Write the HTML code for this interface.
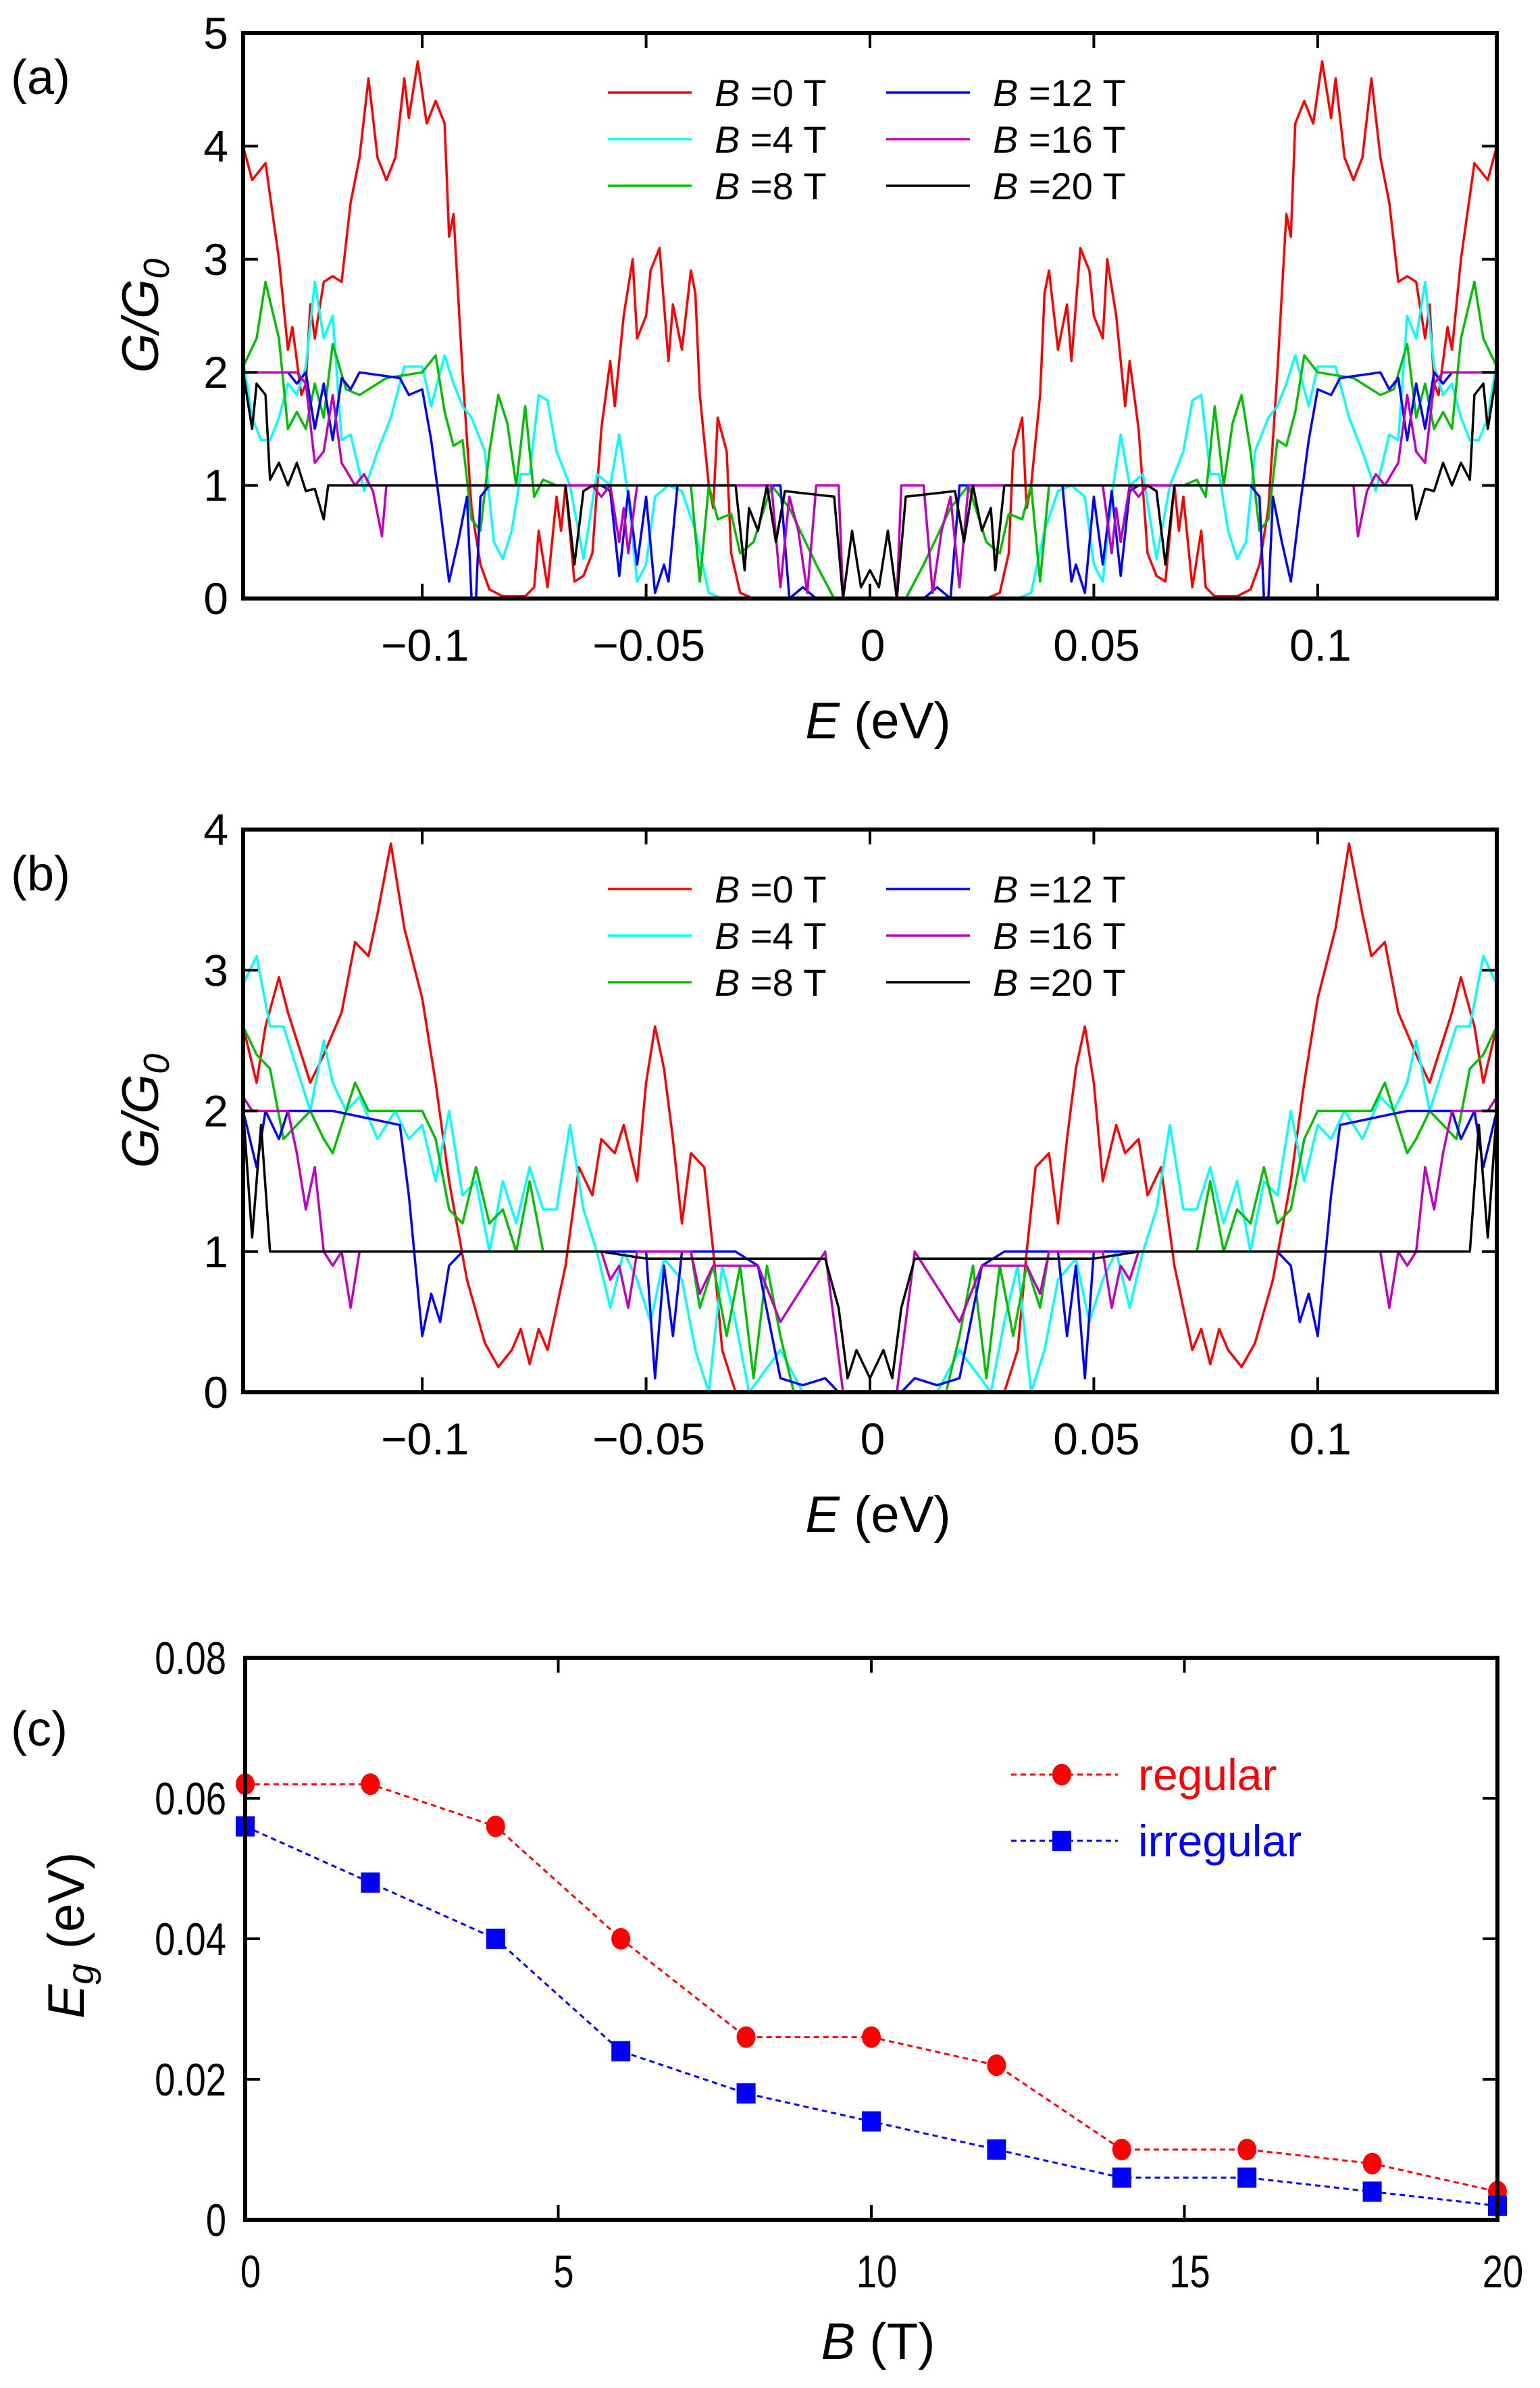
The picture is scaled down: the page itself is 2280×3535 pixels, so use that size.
<!DOCTYPE html>
<html><head><meta charset="utf-8"><style>
html,body{margin:0;padding:0;background:#fff}
svg{display:block}
text{font-family:"Liberation Sans",sans-serif}
</style></head><body>
<svg id="s" width="2280" height="3535" xmlns="http://www.w3.org/2000/svg"></svg>
<script>
const S=document.getElementById('s');let h='';
const col={r:'#ff0000',c:'#00ffff',g:'#00c000',b:'#0000ff',m:'#c000c0',k:'#000000'};
function panel(yt,yb,ymax,data,lab,legy){
  const X0=360,X1=2216;
  const fx=e=>X0+(e+0.14)/0.28*(X1-X0);
  const fy=v=>yb-v/ymax*(yb-yt);
  for(const k of ['r','c','g','b','m','k']){
    const pts=data[k];let L=[],R=[];
    for(const [e,v] of pts){L.push([e,v]);}
    for(let i=pts.length-1;i>=0;i--){R.push([-pts[i][0],pts[i][1]]);}
    const all=L.concat(R);
    h+=`<polyline fill="none" stroke="${col[k]}" stroke-width="3.5" stroke-linejoin="round" points="${all.map(p=>fx(p[0]).toFixed(1)+','+fy(Math.max(0,p[1])).toFixed(1)).join(' ')}"/>`;
  }
  h+=`<rect x="${X0}" y="${yt}" width="${X1-X0}" height="${yb-yt}" fill="none" stroke="#000" stroke-width="6"/>`;
  for(let v=1;v<ymax;v++){const y=fy(v);h+=`<line x1="${X0}" y1="${y}" x2="${X0+22}" y2="${y}" stroke="#000" stroke-width="4"/><line x1="${X1-22}" y1="${y}" x2="${X1}" y2="${y}" stroke="#000" stroke-width="4"/>`;}
  for(let v=0;v<=ymax;v++){h+=`<text x="338" y="${fy(v)+23}" font-size="66" text-anchor="end">${v}</text>`;}
  for(const e of [-0.1,-0.05,0,0.05,0.1]){const x=fx(e);
    h+=`<line x1="${x}" y1="${yt}" x2="${x}" y2="${yt+22}" stroke="#000" stroke-width="4"/><line x1="${x}" y1="${yb-22}" x2="${x}" y2="${yb}" stroke="#000" stroke-width="4"/>`;
    const t=e==0?'0':(e<0?'\u2212':'')+String(Math.abs(e));
    h+=`<text x="${x+4}" y="${yb+92}" font-size="66" text-anchor="middle">${t}</text>`;}
  h+=`<text x="1300" y="${yb+207}" font-size="76" text-anchor="middle"><tspan font-style="italic">E</tspan> (eV)</text>`;
  const cy=(yt+yb)/2;
  h+=`<text transform="translate(234,${cy}) rotate(-90)" font-size="76" text-anchor="middle" font-style="italic">G/G<tspan font-size="54" dy="16">0</tspan></text>`;
  h+=`<text x="16" y="${yt+90}" font-size="72">${lab}</text>`;
  const leg=[['r','0'],['c','4'],['g','8'],['b','12'],['m','16'],['k','20']];
  leg.forEach((l,i)=>{const c=Math.floor(i/3),r=i%3;const lx=c?1312:900,tx=c?1470:1058,y=legy+r*69;
    h+=`<line x1="${lx}" y1="${y}" x2="${lx+124}" y2="${y}" stroke="${col[l[0]]}" stroke-width="3.5"/>`;
    h+=`<text x="${tx}" y="${y+20}" font-size="56"><tspan font-style="italic">B</tspan> =${l[1]} T</text>`;});
}
const A={
r:[[-.14,4],[-.138,3.7],[-.135,3.85],[-.132,3],[-.13,2.2],[-.129,2.4],[-.127,1.8],[-.126,1.9],[-.125,2.6],[-.124,2.3],[-.122,2.8],[-.12,2.85],[-.118,2.8],[-.116,3.5],[-.114,3.9],[-.112,4.6],[-.11,3.9],[-.108,3.7],[-.106,3.9],[-.104,4.6],[-.103,4.25],[-.101,4.75],[-.099,4.2],[-.097,4.4],[-.095,4.2],[-.094,3.2],[-.093,3.4],[-.091,2.0],[-.089,0.8],[-.087,0.3],[-.085,0.08],[-.082,0.02],[-.077,0.02],[-.075,0.1],[-.074,0.6],[-.072,0.1],[-.07,0.9],[-.069,0.6],[-.068,1.0],[-.066,0.15],[-.064,0.2],[-.062,0.4],[-.06,1.5],[-.058,2.1],[-.057,1.7],[-.055,2.5],[-.053,3.0],[-.052,2.3],[-.05,2.5],[-.049,2.9],[-.047,3.1],[-.045,2.1],[-.044,2.6],[-.042,2.2],[-.04,2.9],[-.039,2.7],[-.038,1.8],[-.036,1.0],[-.035,0.8],[-.034,1.6],[-.032,1.3],[-.031,0.4],[-.029,0.05],[-.026,0],[-.006,0]],
c:[[-.14,2.1],[-.138,1.6],[-.136,1.4],[-.134,1.4],[-.132,1.6],[-.13,1.9],[-.128,1.8],[-.126,2.05],[-.124,2.8],[-.122,2.3],[-.12,2.5],[-.118,1.4],[-.116,1.45],[-.113,0.95],[-.11,1.3],[-.107,1.6],[-.104,2.05],[-.1,2.05],[-.098,1.7],[-.095,2.15],[-.093,1.9],[-.091,1.7],[-.089,1.6],[-.086,1.3],[-.084,0.5],[-.082,0.35],[-.08,0.6],[-.078,1.1],[-.076,1.1],[-.074,1.8],[-.072,1.75],[-.07,1.3],[-.067,1.0],[-.064,0.35],[-.061,1.1],[-.058,1.0],[-.056,1.45],[-.054,0.9],[-.052,0.15],[-.05,0.3],[-.048,0.9],[-.045,1.0],[-.042,0.95],[-.039,0.6],[-.036,0.05],[-.033,0],[-.006,0]],
g:[[-.14,2.05],[-.137,2.3],[-.135,2.8],[-.132,2.3],[-.13,1.5],[-.128,1.65],[-.126,1.5],[-.124,1.9],[-.122,1.6],[-.12,2.25],[-.117,1.85],[-.114,1.8],[-.108,1.95],[-.1,2.0],[-.097,2.15],[-.095,1.65],[-.093,1.35],[-.091,1.4],[-.089,0.7],[-.087,0.6],[-.085,1.3],[-.083,1.8],[-.081,1.55],[-.079,1.0],[-.077,1.7],[-.075,0.9],[-.073,1.05],[-.07,1.0],[-.04,1.0],[-.038,0.15],[-.036,1.0],[-.034,0.7],[-.031,0.75],[-.029,0.4],[-.026,0.5],[-.022,1.0],[-.018,0.8],[-.012,0.3],[-.008,0]],
b:[[-.14,2.0],[-.13,2.0],[-.128,1.9],[-.126,2.0],[-.124,1.5],[-.122,1.9],[-.12,1.4],[-.118,1.95],[-.116,1.85],[-.114,2.0],[-.105,1.95],[-.103,1.8],[-.1,1.85],[-.098,1.4],[-.096,0.8],[-.094,0.15],[-.092,0.5],[-.09,0.9],[-.089,0],[-.088,0],[-.087,0.9],[-.085,1.0],[-.06,1.0],[-.058,0.95],[-.056,0.2],[-.054,0.95],[-.052,0.3],[-.05,0.9],[-.048,0.05],[-.046,0.3],[-.045,0.15],[-.043,1.0],[-.02,1.0],[-.018,0],[-.015,0.1],[-.012,0],[-.006,0]],
m:[[-.14,2.0],[-.128,2.0],[-.126,1.9],[-.124,1.2],[-.122,1.3],[-.12,1.8],[-.118,1.2],[-.115,1.0],[-.113,1.1],[-.111,0.95],[-.109,0.55],[-.108,1.0],[-.062,1.0],[-.06,0.9],[-.058,1.0],[-.056,0.5],[-.055,0.8],[-.054,0.4],[-.052,1.0],[-.022,1.0],[-.02,0.1],[-.018,0.9],[-.016,0.6],[-.014,0.05],[-.012,1.0],[-.007,1.0],[-.006,0]],
k:[[-.14,2.0],[-.138,1.5],[-.137,1.9],[-.135,1.8],[-.134,1.05],[-.132,1.2],[-.13,1.0],[-.128,1.2],[-.126,0.95],[-.124,0.97],[-.122,0.7],[-.121,1.0],[-.068,1.0],[-.066,0.3],[-.064,0.95],[-.062,1.0],[-.03,1.0],[-.028,0.25],[-.027,0.8],[-.025,0.6],[-.023,1.0],[-.021,0.5],[-.019,0.95],[-.008,0.9],[-.006,0.0],[-.004,0.6],[-.002,0.1],[0,0.25]]};
const B={
r:[[-.14,2.6],[-.137,2.2],[-.135,2.6],[-.132,2.95],[-.13,2.7],[-.127,2.4],[-.125,2.2],[-.122,2.4],[-.118,2.7],[-.115,3.2],[-.112,3.1],[-.11,3.4],[-.107,3.9],[-.104,3.3],[-.1,2.8],[-.097,2.2],[-.094,1.5],[-.09,0.8],[-.086,0.35],[-.083,0.18],[-.08,0.3],[-.078,0.45],[-.076,0.2],[-.074,0.45],[-.072,0.3],[-.07,0.6],[-.068,0.9],[-.065,1.6],[-.062,1.4],[-.06,1.8],[-.057,1.7],[-.055,1.9],[-.052,1.5],[-.05,2.2],[-.048,2.6],[-.046,2.3],[-.044,1.8],[-.042,1.2],[-.04,1.7],[-.037,1.6],[-.035,1.0],[-.033,0.3],[-.03,0],[-.008,0]],
c:[[-.14,2.9],[-.137,3.1],[-.134,2.6],[-.131,2.6],[-.128,2.3],[-.125,2.0],[-.122,2.5],[-.12,2.2],[-.117,2.0],[-.114,2.1],[-.11,1.8],[-.106,2.0],[-.103,1.8],[-.1,1.9],[-.097,1.5],[-.094,2.0],[-.091,1.4],[-.088,1.5],[-.085,1.0],[-.082,1.5],[-.079,1.2],[-.076,1.6],[-.073,1.3],[-.07,1.3],[-.067,1.9],[-.064,1.3],[-.061,1.0],[-.058,0.6],[-.055,1.0],[-.052,0.8],[-.049,0.5],[-.046,0.95],[-.042,0.8],[-.039,0.3],[-.036,0],[-.033,0.9],[-.03,0.5],[-.027,0],[-.02,0.3],[-.015,0],[-.008,0]],
g:[[-.14,2.6],[-.137,2.4],[-.134,2.3],[-.131,1.8],[-.128,1.9],[-.125,2.0],[-.122,1.8],[-.12,1.7],[-.117,2.0],[-.115,2.2],[-.112,2.0],[-.1,2.0],[-.097,1.8],[-.094,1.3],[-.091,1.2],[-.088,1.6],[-.085,1.2],[-.082,1.3],[-.079,1.0],[-.076,1.5],[-.073,1.0],[-.07,1.0],[-.04,1.0],[-.038,0.6],[-.035,0.9],[-.032,0.4],[-.029,0.9],[-.026,0.1],[-.023,0.9],[-.02,0.4],[-.017,0],[-.008,0]],
b:[[-.14,2.0],[-.137,1.6],[-.135,2.0],[-.132,1.8],[-.13,2.0],[-.12,2.0],[-.105,1.9],[-.103,1.4],[-.1,0.4],[-.098,0.7],[-.096,0.5],[-.094,0.9],[-.091,1.0],[-.05,1.0],[-.048,0.1],[-.046,0.9],[-.044,0.4],[-.042,1.0],[-.03,1.0],[-.025,0.9],[-.02,0.1],[-.015,0.05],[-.01,0.1],[-.007,0]],
m:[[-.14,2.1],[-.138,2.0],[-.13,2.0],[-.128,1.7],[-.126,1.3],[-.124,1.6],[-.122,1.0],[-.12,0.9],[-.118,1.0],[-.116,0.6],[-.114,1.0],[-.06,1.0],[-.058,0.8],[-.056,0.9],[-.054,0.6],[-.052,1.0],[-.04,1.0],[-.038,0.7],[-.035,0.9],[-.025,0.9],[-.02,0.5],[-.01,1.0],[-.006,0]],
k:[[-.14,2.0],[-.138,1.1],[-.136,1.9],[-.134,1.0],[-.132,1.0],[-.06,1.0],[-.05,0.95],[-.01,0.95],[-.007,0.6],[-.005,0.1],[-.003,0.3],[0,0.1]]};
panel(49,886,5,A,'(a)',137);
panel(1228,2061,4,B,'(b)',1316);
(function(){
const X0=363,X1=2217,yt=2454,yb=3286;
const fx=b=>X0+b/20*(X1-X0), fy=v=>yb-v/0.08*(yb-yt);
const reg=[.062,.062,.056,.040,.026,.026,.022,.010,.010,.008,.004];
const irr=[.056,.048,.040,.024,.018,.014,.010,.006,.006,.004,.002];
h+=`<polyline fill="none" stroke="#ff0000" stroke-width="3" stroke-dasharray="8,6" points="${reg.map((v,i)=>fx(2*i)+','+fy(v)).join(' ')}"/>`;
h+=`<polyline fill="none" stroke="#0000ff" stroke-width="3" stroke-dasharray="8,6" points="${irr.map((v,i)=>fx(2*i)+','+fy(v)).join(' ')}"/>`;
reg.forEach((v,i)=>h+=`<ellipse cx="${fx(2*i)}" cy="${fy(v)}" rx="14" ry="16" fill="#ff0000"/>`);
irr.forEach((v,i)=>h+=`<rect x="${fx(2*i)-14}" y="${fy(v)-15}" width="28" height="30" fill="#0000ff"/>`);
h+=`<rect x="${X0}" y="${yt}" width="${X1-X0}" height="${yb-yt}" fill="none" stroke="#000" stroke-width="6"/>`;
for(let i=0;i<=4;i++){const v=i*0.02,y=fy(v);
 if(i>0&&i<4)h+=`<line x1="${X0}" y1="${y}" x2="${X0+22}" y2="${y}" stroke="#000" stroke-width="4"/><line x1="${X1-22}" y1="${y}" x2="${X1}" y2="${y}" stroke="#000" stroke-width="4"/>`;
 const t=i==0?'0':v.toFixed(2);
 h+=`<text transform="translate(335,${y+24}) scale(0.8,1)" font-size="68" text-anchor="end">${t}</text>`;}
for(let b=0;b<=20;b+=5){const x=fx(b);
 if(b>0&&b<20)h+=`<line x1="${x}" y1="${yt}" x2="${x}" y2="${yt+22}" stroke="#000" stroke-width="4"/><line x1="${x}" y1="${yb-22}" x2="${x}" y2="${yb}" stroke="#000" stroke-width="4"/>`;
 h+=`<text transform="translate(${x+8},${yb+100}) scale(0.8,1)" font-size="68" text-anchor="middle">${b}</text>`;}
h+=`<text x="1300" y="3492" font-size="76" text-anchor="middle"><tspan font-style="italic">B</tspan> (T)</text>`;
h+=`<text transform="translate(124,2865) rotate(-90)" font-size="76" text-anchor="middle"><tspan font-style="italic">E</tspan><tspan font-style="italic" font-size="56" dy="14">g</tspan><tspan dy="-14"> (eV)</tspan></text>`;
h+=`<text x="16" y="2584" font-size="72">(c)</text>`;
h+=`<line x1="1497" y1="2627" x2="1655" y2="2627" stroke="#ff0000" stroke-width="3" stroke-dasharray="8,6"/><ellipse cx="1572" cy="2627" rx="14" ry="16" fill="#ff0000"/>`;
h+=`<text x="1685" y="2650" font-size="66" fill="#ff0000">regular</text>`;
h+=`<line x1="1497" y1="2725" x2="1655" y2="2725" stroke="#0000ff" stroke-width="3" stroke-dasharray="8,6"/><rect x="1558" y="2710" width="28" height="30" fill="#0000ff"/>`;
h+=`<text x="1685" y="2748" font-size="66" fill="#0000ff">irregular</text>`;
})();
S.innerHTML=h;
</script>
</body></html>
